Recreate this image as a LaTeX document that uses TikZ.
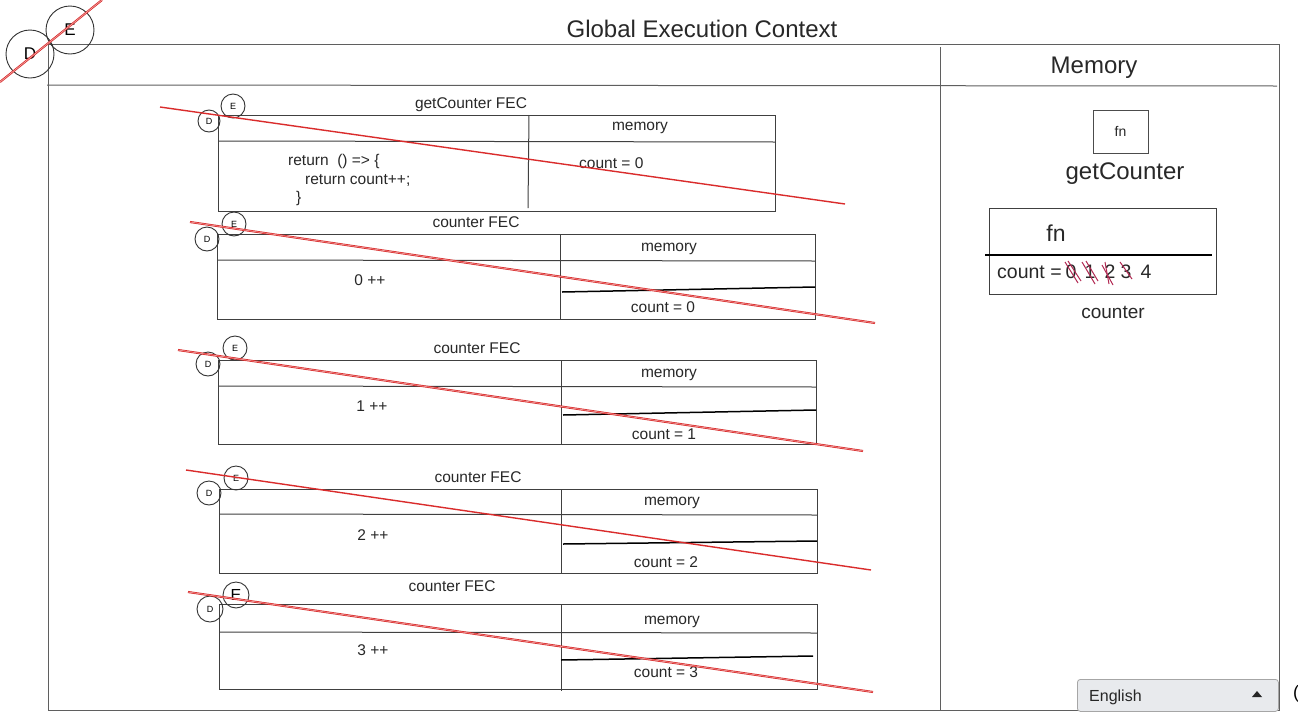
\documentclass[tikz,border=0pt]{standalone}
\usepackage{fontspec}
\setmainfont{Liberation Sans}
\definecolor{strk}{RGB}{218,44,44}
\definecolor{frm}{RGB}{95,95,95}
\definecolor{mk}{RGB}{178,40,82}
\definecolor{txt}{RGB}{40,40,40}
\definecolor{pill}{RGB}{232,234,237}
\begin{document}
\begin{tikzpicture}[x=1pt,y=-1pt,
  frame/.style={draw=frm, line width=1pt},
  fbox/.style={draw=black!75, line width=1pt, inner sep=0, anchor=north west},
  fline/.style={draw=black!75, line width=1pt},
  inline/.style={draw=black, line width=1.5pt},
  lbl/.style={font=\fontsize{15.5}{18}\selectfont, text=txt, inner sep=0, yshift=-2.5pt},
  circ/.style={draw=black!80, circle, line width=0.9pt, inner sep=0, minimum size=24pt, font=\fontsize{9}{10}\selectfont},
  strike/.style={draw=strk, line width=1.4pt},
  dstrike/.style={draw=strk, line width=0.8pt, double=strk!35, double distance=0.5pt},
  tick/.style={draw=mk, line width=1pt},
  big/.style={font=\fontsize{19.5}{22}\selectfont, text=txt, inner sep=0, yshift=-1pt}]
\useasboundingbox (0,0) rectangle (1298,718);
\fill[white] (0,0) rectangle (1298,718);

% global frame
\node[frame, minimum width=1231pt, minimum height=666pt, anchor=north west, inner sep=0] (gec) at (48,44) {};
\coordinate (dv1) at (940,47); \coordinate (dv2) at (940,710);
\draw[frame] (dv1) -- (dv2);
\coordinate (hl1) at (47,85); \coordinate (hl2) at (1277,86);
\draw[frame] (hl1) -- (hl2);
\node[font=\fontsize{24}{28}\selectfont, text=txt, inner sep=0] (title) at (702,29) {Global Execution Context};
\node[font=\fontsize{24}{28}\selectfont, text=txt, inner sep=0, yshift=-2pt] (memt) at (1094,66) {Memory};

% top-left D/E circles
\node[circ, minimum size=48pt, font=\fontsize{17}{20}\selectfont] (bd) at (30,54) {D};
\node[circ, minimum size=48pt, font=\fontsize{17}{20}\selectfont] (be) at (70,30) {E};
\coordinate (s0a) at (0,82); \coordinate (s0b) at (102,0);
\draw[dstrike] (s0a) -- (s0b);

% getCounter FEC
\node[lbl] (gt) at (471,102) {getCounter FEC};
\node[fbox, minimum width=557pt, minimum height=96pt] (gb) at (218,115) {};
\coordinate (gd1) at (529,115); \coordinate (gd2) at (528,208);
\draw[fline] (gd1) -- (gd2);
\coordinate (gh1) at (218,141); \coordinate (gh2) at (775,142);
\draw[fline] (gh1) -- (gh2);
\node[lbl] (gm) at (640,125) {memory};
\node[lbl, anchor=west] (gr1) at (288,159) {return~~() => \{};
\node[lbl, anchor=west] (gr2) at (305,178) {return count++;};
\node[lbl, anchor=west] (gr3) at (296,196) {\}};
\node[lbl, anchor=west] (gc) at (579,161) {count = 0};
\node[circ, minimum size=22pt] (gD) at (209,121) {D};
\node[circ] (gE) at (233,106) {E};
\coordinate (s1a) at (160,107); \coordinate (s1b) at (845,204);
\draw[strike] (s1a) -- (s1b);

% counter FEC 1
\node[lbl] (c1t) at (476,220) {counter FEC};
\node[fbox, minimum width=598pt, minimum height=85pt] (c1b) at (217,234) {};
\coordinate (c1d1) at (560,234); \coordinate (c1d2) at (560,319);
\draw[fline] (c1d1) -- (c1d2);
\coordinate (c1h1) at (217,260); \coordinate (c1h2) at (815,261);
\draw[fline] (c1h1) -- (c1h2);
\coordinate (c1i1) at (562,292); \coordinate (c1i2) at (815,287);
\draw[inline] (c1i1) -- (c1i2);
\node[lbl] (c1m) at (669,246) {memory};
\node[lbl] (c1e) at (370,278) {0 ++};
\node[lbl] (c1c) at (663,305) {count = 0};
\node[circ] (c1D) at (207,239) {D};
\node[circ] (c1E) at (234,224) {E};
\coordinate (s2a) at (190,222); \coordinate (s2b) at (875,323);
\draw[dstrike] (s2a) -- (s2b);

% counter FEC 2
\node[lbl] (c2t) at (477,346) {counter FEC};
\node[fbox, minimum width=598pt, minimum height=84pt] (c2b) at (218,360) {};
\coordinate (c2d1) at (561,360); \coordinate (c2d2) at (561,444);
\draw[fline] (c2d1) -- (c2d2);
\coordinate (c2h1) at (218,386); \coordinate (c2h2) at (816,387);
\draw[fline] (c2h1) -- (c2h2);
\coordinate (c2i1) at (563,415); \coordinate (c2i2) at (816,410);
\draw[inline] (c2i1) -- (c2i2);
\node[lbl] (c2m) at (669,372) {memory};
\node[lbl] (c2e) at (372,404) {1 ++};
\node[lbl] (c2c) at (664,432) {count = 1};
\node[circ] (c2D) at (208,364) {D};
\node[circ] (c2E) at (235,348) {E};
\coordinate (s3a) at (178,350); \coordinate (s3b) at (863,451);
\draw[dstrike] (s3a) -- (s3b);

% counter FEC 3
\node[lbl] (c3t) at (478,475) {counter FEC};
\node[fbox, minimum width=598pt, minimum height=84pt] (c3b) at (219,489) {};
\coordinate (c3d1) at (561,489); \coordinate (c3d2) at (561,573);
\draw[fline] (c3d1) -- (c3d2);
\coordinate (c3h1) at (219,514); \coordinate (c3h2) at (817,515);
\draw[fline] (c3h1) -- (c3h2);
\coordinate (c3i1) at (563,544); \coordinate (c3i2) at (817,541);
\draw[inline] (c3i1) -- (c3i2);
\node[lbl] (c3m) at (672,500) {memory};
\node[lbl] (c3e) at (373,533) {2 ++};
\node[lbl] (c3c) at (666,560) {count = 2};
\node[circ] (c3D) at (209,493) {D};
\node[circ] (c3E) at (236,478) {E};
\coordinate (s4a) at (186,470); \coordinate (s4b) at (871,570);
\draw[strike] (s4a) -- (s4b);

% counter FEC 4
\node[lbl] (c4t) at (452,584) {counter FEC};
\node[fbox, minimum width=598pt, minimum height=85pt] (c4b) at (219,604) {};
\coordinate (c4d1) at (561,604); \coordinate (c4d2) at (561,691);
\draw[fline] (c4d1) -- (c4d2);
\coordinate (c4h1) at (219,632); \coordinate (c4h2) at (817,633);
\draw[fline] (c4h1) -- (c4h2);
\coordinate (c4i1) at (561,660); \coordinate (c4i2) at (813,656);
\draw[inline] (c4i1) -- (c4i2);
\node[lbl] (c4m) at (672,619) {memory};
\node[lbl] (c4e) at (373,648) {3 ++};
\node[lbl] (c4c) at (666,670) {count = 3};
\node[circ, minimum size=26pt] (c4D) at (210,609) {D};
\node[circ, minimum size=26pt, font=\fontsize{16}{18}\selectfont] (c4E) at (236,595) {E};
\coordinate (s5a) at (188,592); \coordinate (s5b) at (873,692);
\draw[dstrike] (s5a) -- (s5b);

% right memory panel
\node[draw=black!70, line width=1pt, minimum width=55pt, minimum height=43pt, inner sep=0,
      font=\fontsize{14}{16}\selectfont, text=txt] (fnb) at (1120.5,131.5) {fn};
\node[font=\fontsize{24}{28}\selectfont, text=txt, inner sep=0, yshift=-2.5pt] (gcl) at (1125,171) {getCounter};
\node[fbox, minimum width=227pt, minimum height=86pt] (cb) at (989,208) {};
\coordinate (cbl1) at (985,255); \coordinate (cbl2) at (1212,255);
\draw[draw=black, line width=1.3pt] (cbl1) -- (cbl2);
\node[font=\fontsize{23}{26}\selectfont, text=txt, inner sep=0, yshift=-1pt] (cfn) at (1056,232) {fn};
\node[big, anchor=west] (ccnt) at (997,271) {count =};
\node[big] (d0) at (1071,271) {0};
\node[big] (d1) at (1090,271) {1};
\node[big] (d2) at (1110,271) {2};
\node[big] (d3) at (1126,271) {3};
\node[big] (d4) at (1146,271) {4};
\coordinate (m0a) at (1065,262); \coordinate (m0b) at (1078,283);
\coordinate (m0c) at (1068,261); \coordinate (m0d) at (1081,281);
\draw[tick] (m0a) -- (m0b); \draw[tick] (m0c) -- (m0d);
\coordinate (m1a) at (1082,262); \coordinate (m1b) at (1095,284);
\coordinate (m1c) at (1086,261); \coordinate (m1d) at (1098,281);
\draw[tick] (m1a) -- (m1b); \draw[tick] (m1c) -- (m1d);
\coordinate (m2a) at (1102,265); \coordinate (m2b) at (1113,285);
\coordinate (m2c) at (1105,262); \coordinate (m2d) at (1109,284);
\draw[tick] (m2a) -- (m2b); \draw[tick] (m2c) -- (m2d);
\coordinate (m3a) at (1120,262); \coordinate (m3b) at (1132,279);
\draw[tick] (m3a) -- (m3b);
\node[big, font=\fontsize{19}{22}\selectfont] (ctrl) at (1113,311) {counter};

% language selector
\node[draw=black!35, fill=pill, rounded corners=3pt, line width=0.8pt, anchor=north west,
      minimum width=201pt, minimum height=32pt, inner sep=0] (lang) at (1077,679) {};
\node[font=\fontsize{16}{19}\selectfont, text=black!85, inner sep=0, anchor=west, yshift=-2pt] (langt) at (1089,695) {English};
\fill[black!85] (1252,697) -- (1262,697) -- (1257,691) -- cycle;
\node[font=\fontsize{18}{20}\selectfont, text=black, inner sep=0, anchor=west] (paren) at (1293,694) {(};
\end{tikzpicture}
\end{document}
